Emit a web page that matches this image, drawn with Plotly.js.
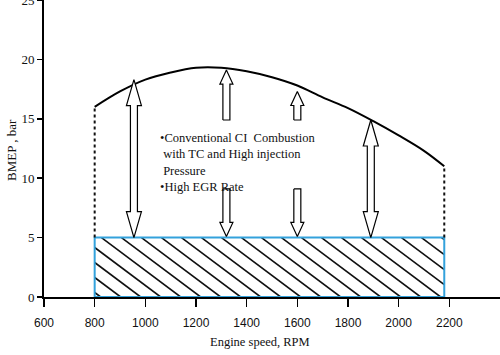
<!DOCTYPE html>
<html><head><meta charset="utf-8">
<script src="https://cdn.plot.ly/plotly-3.0.1.min.js"></script>
<style>body{margin:0;background:#fff}</style>
</head><body><div id="chart" style="width:500px;height:355px"></div>
<script>
// ---- data ----
const speed   = [800, 900, 1000, 1100, 1200, 1300, 1400, 1500, 1600, 1700, 1800, 1900, 2000, 2100, 2180];
const bmepMax = [16.0, 17.3, 18.3, 18.9, 19.3, 19.3, 19.0, 18.5, 17.8, 16.8, 15.9, 14.8, 13.6, 12.3, 11.0];
const regionX = [800, 2180];
const regionY = [0, 5];
const arrowX    = [955, 1320, 1320, 1600, 1600, 1890];
const arrowFrom = [5.0, 14.9, 9.1, 14.9, 9.1, 5.0];
const arrowTo   = [18.3, 19.1, 5.1, 17.3, 5.1, 14.9];
const arrowBoth = [true, false, false, false, false, true];
const xTicks = [600, 800, 1000, 1200, 1400, 1600, 1800, 2000, 2200];
const yTicks = [0, 5, 10, 15, 20, 25];
const noteLines = ['\u2022Conventional CI\u00a0 Combustion', '\u00a0with TC and High injection', '\u00a0Pressure', '\u2022High EGR Rate'];
const xTitle = 'Engine speed, RPM';
const yTitle = 'BMEP , bar';

// ---- geometry helpers ----
const W = 500, H = 355, M = {l: 44, r: 0, t: 0, b: 58, pad: 0};
const xr = [600, 2400], yr = [0, 25];
const pw = W - M.l - M.r, ph = H - M.t - M.b;
const ux = (xr[1] - xr[0]) / pw, uy = (yr[1] - yr[0]) / ph;
const serif = 'Liberation Serif, Times New Roman, serif';
const sans = 'Liberation Sans, Arial, sans-serif';

// hollow arrows
const ax = [], ay = [];
const shaft = 3.5, singleHead = {w: 6.5, l: 14}, doubleHead = {w: 7.5, l: 26};
arrowX.forEach((x, i) => {
  const y0 = arrowFrom[i], y1 = arrowTo[i], d = Math.sign(y1 - y0);
  const s = shaft * ux;
  if (arrowBoth[i]) {
    const hw = doubleHead.w * ux, hl = doubleHead.l * uy * d;
    const pts = [[0, y0], [hw, y0 + hl], [s, y0 + hl], [s, y1 - hl], [hw, y1 - hl], [0, y1],
                 [-hw, y1 - hl], [-s, y1 - hl], [-s, y0 + hl], [-hw, y0 + hl], [0, y0]];
    pts.forEach(p => { ax.push(x + p[0]); ay.push(p[1]); });
  } else {
    const hw = singleHead.w * ux, hl = singleHead.l * uy * d;
    const pts = [[-s, y0], [-s, y1 - hl], [-hw, y1 - hl], [0, y1], [hw, y1 - hl], [s, y1 - hl], [s, y0], [-s, y0]];
    pts.forEach(p => { ax.push(x + p[0]); ay.push(p[1]); });
  }
  ax.push(null); ay.push(null);
});

// hatch lines inside the region (pixel spacing / slope)
const hx = [], hy = [];
const spacing = 20, slope = 0.75;
const xl = (regionX[0] - xr[0]) / ux, xrp = (regionX[1] - xr[0]) / ux;
const hp = (regionY[1] - regionY[0]) / uy;
for (let c = xl - hp / slope + 6; c < xrp; c += spacing) {
  const xs = Math.max(c, xl), xe = Math.min(c + hp / slope, xrp);
  if (xe <= xs) continue;
  hx.push(xr[0] + xs * ux, xr[0] + xe * ux, null);
  hy.push(regionY[1] - slope * (xs - c) * uy, regionY[1] - slope * (xe - c) * uy, null);
}

const traces = [
  {x: hx, y: hy, mode: 'lines', line: {color: '#111', width: 1.6}, hoverinfo: 'skip'},
  {x: [regionX[0], regionX[1], regionX[1], regionX[0], regionX[0]],
   y: [regionY[0], regionY[0], regionY[1], regionY[1], regionY[0]],
   mode: 'lines', line: {color: '#33a2dc', width: 2}},
  {x: [regionX[0], regionX[0], null, regionX[1], regionX[1]],
   y: [regionY[1], bmepMax[0], null, regionY[1], bmepMax[bmepMax.length - 1]],
   mode: 'lines', line: {color: '#111', width: 2, dash: 'dot'}},
  {x: speed, y: bmepMax, mode: 'lines', line: {color: '#000', width: 2, shape: 'spline', smoothing: 1}},
  {x: ax, y: ay, mode: 'lines', fill: 'toself', fillcolor: '#fff', line: {color: '#000', width: 1.2}}
];

const layout = {
  width: W, height: H, margin: M, showlegend: false,
  paper_bgcolor: '#fff', plot_bgcolor: '#fff',
  xaxis: {range: xr, tickvals: xTicks, ticktext: xTicks.map(String), showgrid: false, zeroline: false,
          showline: true, linecolor: '#000', linewidth: 2, ticks: 'outside', ticklen: 8, tickwidth: 1.5,
          tickcolor: '#000', ticklabelstandoff: 6, ticklabeloverflow: 'allow',
          tickfont: {family: sans, size: 12, color: '#111'}},
  yaxis: {range: yr, tickvals: yTicks, ticktext: yTicks.map(String), showgrid: false, zeroline: false,
          showline: true, linecolor: '#000', linewidth: 2, ticks: 'outside', ticklen: 5, tickwidth: 1.5,
          tickcolor: '#000', ticklabeloverflow: 'allow',
          tickfont: {family: serif, size: 13, color: '#111'}},
  annotations: [
    {x: 1050, y: 14.1, xref: 'x', yref: 'y', xanchor: 'left', yanchor: 'top', align: 'left', showarrow: false,
     text: noteLines.join('<br>'), font: {family: serif, size: 12.5, color: '#111'}},
    {x: (260 - M.l) / pw, y: (ph - 342) / ph, xref: 'paper', yref: 'paper', xanchor: 'center', yanchor: 'middle',
     showarrow: false, text: xTitle, font: {family: serif, size: 12.5, color: '#111'}},
    {x: (12 - M.l) / pw, y: (ph - 150) / ph, xref: 'paper', yref: 'paper', xanchor: 'center', yanchor: 'middle',
     showarrow: false, textangle: -90, text: yTitle, font: {family: serif, size: 13, color: '#111'}}
  ]
};
Plotly.newPlot('chart', traces, layout, {staticPlot: true, displayModeBar: false});
</script></body></html>
